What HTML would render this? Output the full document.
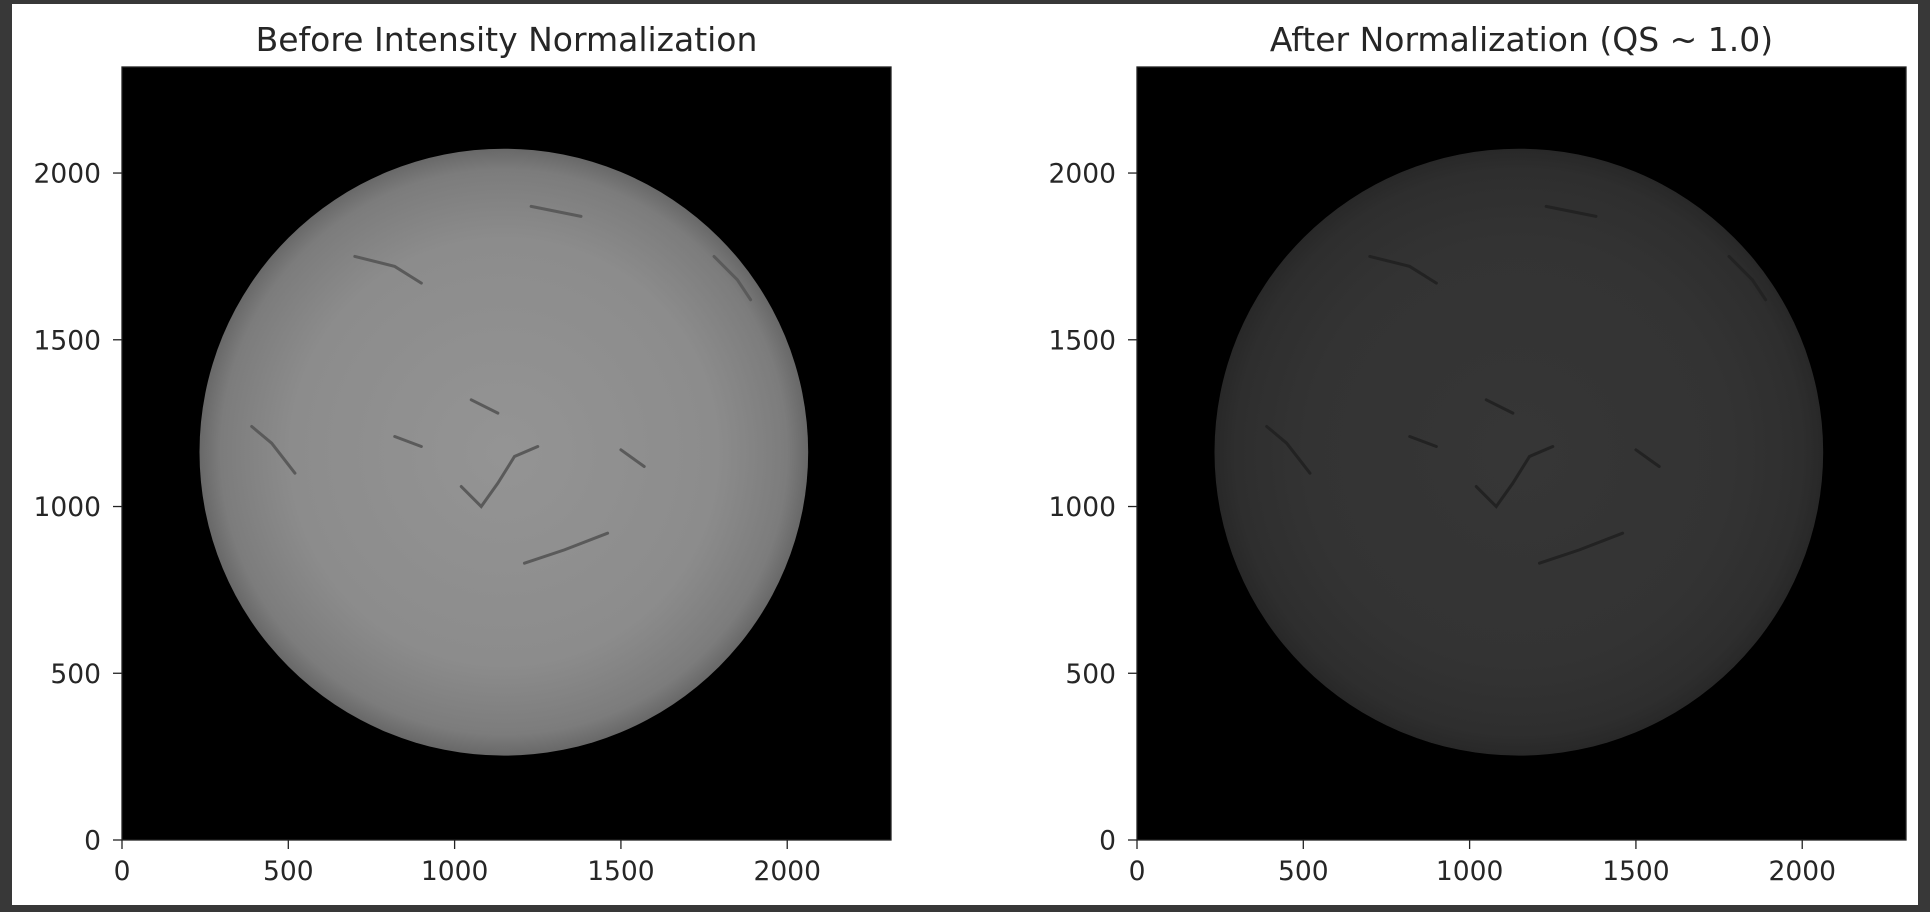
<!DOCTYPE html>
<html><head><meta charset="utf-8"><style>
html,body{margin:0;padding:0;background:#383838;}
svg{display:block;font-family:"DejaVu Sans","Liberation Sans",sans-serif;}
</style></head><body>
<svg id="fig" width="1930" height="912" viewBox="0 0 1930 912">
<defs>
<radialGradient id="sunA" cx="50%" cy="50%" r="50%">
<stop offset="0" stop-color="#949494"/><stop offset="0.7" stop-color="#8c8c8c"/><stop offset="0.93" stop-color="#7c7c7c"/><stop offset="1" stop-color="#686868"/>
</radialGradient>
<radialGradient id="sunB" cx="50%" cy="50%" r="50%">
<stop offset="0" stop-color="#363636"/><stop offset="0.7" stop-color="#333"/><stop offset="0.93" stop-color="#2e2e2e"/><stop offset="1" stop-color="#282828"/>
</radialGradient>
</defs>
<rect x="12" y="4" width="1906" height="901" fill="#ffffff"/>
<g id="panels"></g>
</svg>
<script>
const xTicks=[0,500,1000,1500,2000];
const yTicks=[0,500,1000,1500,2000];
const xMax=2312, yMax=2318;
const sunCenter=[1148,1163];
const sunRadius=[915,910];
const titles=["Before Intensity Normalization","After Normalization (QS ~ 1.0)"];
const filaments=[
 [[1020,1060],[1080,1000],[1130,1070],[1180,1150],[1250,1180]],
 [[1210,830],[1330,870],[1460,920]],
 [[700,1750],[820,1720],[900,1670]],
 [[390,1240],[450,1190],[520,1100]],
 [[1230,1900],[1380,1870]],
 [[1050,1320],[1130,1280]],
 [[820,1210],[900,1180]],
 [[1500,1170],[1570,1120]],
 [[1780,1750],[1850,1680],[1890,1620]]
];
const NS="http://www.w3.org/2000/svg";
const g=document.getElementById('panels');
function mk(t,a,p){const e=document.createElementNS(NS,t);for(const k in a)e.setAttribute(k,a[k]);(p||g).appendChild(e);return e;}
const axes=[{x0:122,w:769,fill:'url(#sunA)',fil:'#5a5a5a'},{x0:1137,w:769,fill:'url(#sunB)',fil:'#222'}];
const y0=67,h=773;
axes.forEach((A,i)=>{
  const sx=v=>A.x0+v/xMax*A.w, sy=v=>y0+h-v/yMax*h;
  const grp=mk('g',{});
  
  
  const bg=mk('rect',{x:A.x0,y:y0,width:A.w,height:h,fill:'#000'},grp);
  
  
  const sun=mk('ellipse',{cx:sx(sunCenter[0]),cy:sy(sunCenter[1]),rx:sunRadius[0]/xMax*A.w,ry:sunRadius[1]/yMax*h,fill:A.fill},grp);
  
  
  filaments.forEach(f=>{
    const p=mk('path',{d:f.map((q,j)=>(j?'L':'M')+sx(q[0])+' '+sy(q[1])).join(' '),stroke:A.fil,'stroke-width':3,fill:'none','stroke-linecap':'round'},grp);
    
    
  });
  const fr=mk('rect',{x:A.x0,y:y0,width:A.w,height:h,fill:'none',stroke:'#222','stroke-width':1.3},grp);
  
  
  xTicks.forEach(v=>{
    const x=sx(v);
    const l=mk('line',{x1:x,x2:x,y1:y0+h,y2:y0+h+9,stroke:'#222','stroke-width':1.3},grp);
    
    
    const t=mk('text',{x:x,y:y0+h+40,'text-anchor':'middle','font-size':26.5,fill:'#262626'},grp);
    t.textContent=v;
    
    
  });
  yTicks.forEach(v=>{
    const y=sy(v);
    const l=mk('line',{x1:A.x0-9,x2:A.x0,y1:y,y2:y,stroke:'#222','stroke-width':1.3},grp);
    
    
    const t=mk('text',{x:A.x0-21,y:y+9.5,'text-anchor':'end','font-size':26.5,fill:'#262626'},grp);
    t.textContent=v;
    
    
  });
  const tt=mk('text',{x:A.x0+A.w/2,y:51,'text-anchor':'middle','font-size':33,fill:'#262626'},grp);
  tt.textContent=titles[i];
  
  
});
</script>
</body></html>
